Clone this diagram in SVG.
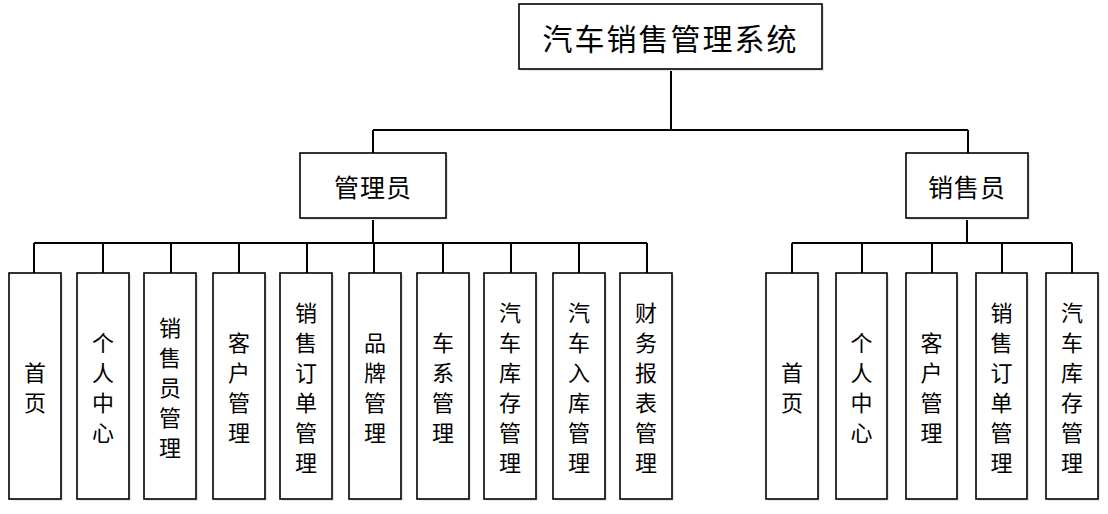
<svg xmlns="http://www.w3.org/2000/svg" width="1108" height="514" viewBox="0 0 1108 514">
<style>
.box{fill:#ffffff;stroke:#000000;stroke-width:1.6}
.sh{fill:#e3e8ef;stroke:none}
.t{font-family:"Noto Sans CJK SC","Noto Sans",sans-serif;fill:#000000;text-anchor:middle;dominant-baseline:central}
.lf{font-size:22px}
.conn{fill:none;stroke:#000000;stroke-width:2}
</style>
<rect width="1108" height="514" fill="#ffffff"/>
<g id="connectors" class="conn">
<path d="M671 69V130M373 130H968M373 130V153M968 130V153"/>
<path d="M373 218V243M34 243H647M34 243V273M103 243V273M171 243V273M239 243V273M307 243V273M374 243V273M443 243V273M511 243V273M579 243V273M647 243V273"/>
<path d="M967 218V243M792 243H1072M792 243V273M862 243V273M932 243V273M1002 243V273M1072 243V273"/>
</g>
<g id="root"><rect class="sh" x="521" y="6" width="303" height="65"/><rect class="box" x="519" y="4" width="303" height="65"/><text class="t" x="670.5" y="37" font-size="30" letter-spacing="2">汽车销售管理系统</text></g>
<g id="admin"><rect class="sh" x="302" y="155" width="146" height="65"/><rect class="box" x="300" y="153" width="146" height="65"/><text class="t" x="373" y="186" font-size="25" letter-spacing="1">管理员</text></g>
<g id="sales"><rect class="sh" x="908" y="155" width="122" height="65"/><rect class="box" x="906" y="153" width="122" height="65"/><text class="t" x="967" y="186" font-size="25" letter-spacing="1">销售员</text></g>
<g id="a1"><rect class="sh" x="11" y="275" width="52" height="226"/><rect class="box" x="9" y="273" width="52" height="226"/><text class="t lf"><tspan x="35" y="371">首</tspan><tspan x="35" y="401">页</tspan></text></g>
<g id="a2"><rect class="sh" x="79" y="275" width="52" height="226"/><rect class="box" x="77" y="273" width="52" height="226"/><text class="t lf"><tspan x="103" y="341">个</tspan><tspan x="103" y="371">人</tspan><tspan x="103" y="401">中</tspan><tspan x="103" y="431">心</tspan></text></g>
<g id="a3"><rect class="sh" x="146" y="275" width="52" height="226"/><rect class="box" x="144" y="273" width="52" height="226"/><text class="t lf"><tspan x="170" y="326">销</tspan><tspan x="170" y="356">售</tspan><tspan x="170" y="386">员</tspan><tspan x="170" y="416">管</tspan><tspan x="170" y="446">理</tspan></text></g>
<g id="a4"><rect class="sh" x="215" y="275" width="52" height="226"/><rect class="box" x="213" y="273" width="52" height="226"/><text class="t lf"><tspan x="239" y="341">客</tspan><tspan x="239" y="371">户</tspan><tspan x="239" y="401">管</tspan><tspan x="239" y="431">理</tspan></text></g>
<g id="a5"><rect class="sh" x="282" y="275" width="52" height="226"/><rect class="box" x="280" y="273" width="52" height="226"/><text class="t lf"><tspan x="306" y="311">销</tspan><tspan x="306" y="341">售</tspan><tspan x="306" y="371">订</tspan><tspan x="306" y="401">单</tspan><tspan x="306" y="431">管</tspan><tspan x="306" y="461">理</tspan></text></g>
<g id="a6"><rect class="sh" x="351" y="275" width="52" height="226"/><rect class="box" x="349" y="273" width="52" height="226"/><text class="t lf"><tspan x="375" y="341">品</tspan><tspan x="375" y="371">牌</tspan><tspan x="375" y="401">管</tspan><tspan x="375" y="431">理</tspan></text></g>
<g id="a7"><rect class="sh" x="419" y="275" width="52" height="226"/><rect class="box" x="417" y="273" width="52" height="226"/><text class="t lf"><tspan x="443" y="341">车</tspan><tspan x="443" y="371">系</tspan><tspan x="443" y="401">管</tspan><tspan x="443" y="431">理</tspan></text></g>
<g id="a8"><rect class="sh" x="486" y="275" width="52" height="226"/><rect class="box" x="484" y="273" width="52" height="226"/><text class="t lf"><tspan x="510" y="311">汽</tspan><tspan x="510" y="341">车</tspan><tspan x="510" y="371">库</tspan><tspan x="510" y="401">存</tspan><tspan x="510" y="431">管</tspan><tspan x="510" y="461">理</tspan></text></g>
<g id="a9"><rect class="sh" x="555" y="275" width="52" height="226"/><rect class="box" x="553" y="273" width="52" height="226"/><text class="t lf"><tspan x="579" y="311">汽</tspan><tspan x="579" y="341">车</tspan><tspan x="579" y="371">入</tspan><tspan x="579" y="401">库</tspan><tspan x="579" y="431">管</tspan><tspan x="579" y="461">理</tspan></text></g>
<g id="a10"><rect class="sh" x="622" y="275" width="52" height="226"/><rect class="box" x="620" y="273" width="52" height="226"/><text class="t lf"><tspan x="646" y="311">财</tspan><tspan x="646" y="341">务</tspan><tspan x="646" y="371">报</tspan><tspan x="646" y="401">表</tspan><tspan x="646" y="431">管</tspan><tspan x="646" y="461">理</tspan></text></g>
<g id="s1"><rect class="sh" x="768" y="275" width="52" height="226"/><rect class="box" x="766" y="273" width="52" height="226"/><text class="t lf"><tspan x="792" y="371">首</tspan><tspan x="792" y="401">页</tspan></text></g>
<g id="s2"><rect class="sh" x="838" y="275" width="51" height="226"/><rect class="box" x="836" y="273" width="51" height="226"/><text class="t lf"><tspan x="861.5" y="341">个</tspan><tspan x="861.5" y="371">人</tspan><tspan x="861.5" y="401">中</tspan><tspan x="861.5" y="431">心</tspan></text></g>
<g id="s3"><rect class="sh" x="908" y="275" width="51" height="226"/><rect class="box" x="906" y="273" width="51" height="226"/><text class="t lf"><tspan x="931.5" y="341">客</tspan><tspan x="931.5" y="371">户</tspan><tspan x="931.5" y="401">管</tspan><tspan x="931.5" y="431">理</tspan></text></g>
<g id="s4"><rect class="sh" x="978" y="275" width="51" height="226"/><rect class="box" x="976" y="273" width="51" height="226"/><text class="t lf"><tspan x="1001.5" y="311">销</tspan><tspan x="1001.5" y="341">售</tspan><tspan x="1001.5" y="371">订</tspan><tspan x="1001.5" y="401">单</tspan><tspan x="1001.5" y="431">管</tspan><tspan x="1001.5" y="461">理</tspan></text></g>
<g id="s5"><rect class="sh" x="1048" y="275" width="52" height="226"/><rect class="box" x="1046" y="273" width="52" height="226"/><text class="t lf"><tspan x="1072" y="311">汽</tspan><tspan x="1072" y="341">车</tspan><tspan x="1072" y="371">库</tspan><tspan x="1072" y="401">存</tspan><tspan x="1072" y="431">管</tspan><tspan x="1072" y="461">理</tspan></text></g>
</svg>
